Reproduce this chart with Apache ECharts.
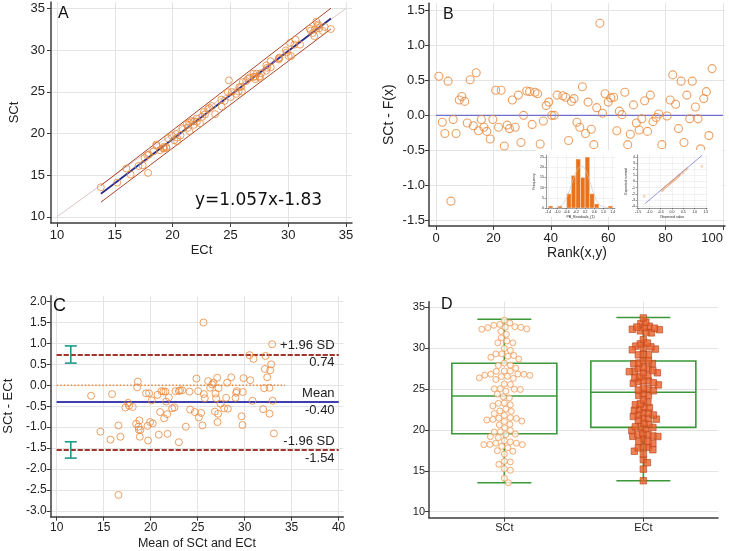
<!DOCTYPE html>
<html><head><meta charset="utf-8">
<script src="https://cdn.jsdelivr.net/npm/echarts@6.0.0/dist/echarts.min.js"></script>
<style>html,body{margin:0;padding:0;background:#fff}#c{width:729px;height:551px}</style>
</head><body><div id="c"></div>
<script>
// ---------- DATA ----------
// Panel A / D : paired Ct values
const ectVals = [13.79,15.21,16.37,16.00,17.05,17.88,17.40,17.58,17.81,17.95,18.35,18.91,18.59,18.59,19.20,19.26,19.22,19.46,19.45,19.61,20.15,20.39,19.93,20.38,20.30,20.68,20.84,21.45,21.32,21.22,21.44,21.83,21.65,21.84,22.10,22.37,22.08,22.56,22.80,22.71,23.07,23.19,23.41,23.68,24.24,24.21,24.49,25.02,24.79,25.12,25.51,25.70,25.99,24.87,25.77,25.92,26.07,26.36,26.53,26.65,27.15,27.00,27.13,26.99,27.55,27.52,27.26,27.65,28.10,28.18,28.11,28.49,28.48,29.18,29.19,29.24,30.04,30.25,29.89,29.80,30.16,30.53,31.03,30.63,32.26,32.12,31.96,31.87,32.31,32.99,32.68,32.54,32.58,32.44,33.16,33.69];
const sctVals = [13.54,14.10,15.07,15.79,16.09,15.26,16.17,17.05,17.39,17.46,17.83,17.99,18.54,18.68,18.21,18.20,18.38,18.23,18.38,19.42,19.18,19.07,19.74,19.50,19.94,19.77,20.61,20.27,20.68,21.08,21.29,21.04,21.50,21.45,21.41,21.21,21.79,22.01,22.27,22.57,22.93,23.07,23.29,22.32,23.25,24.06,23.91,24.38,24.95,24.98,24.74,25.04,25.03,26.37,25.56,25.61,26.17,26.30,26.55,26.71,26.52,26.80,26.82,27.17,26.67,26.84,27.19,27.21,27.55,27.88,28.17,27.93,28.67,28.88,29.01,29.10,29.30,29.30,29.73,29.97,30.88,30.65,30.66,31.26,31.69,32.05,32.35,32.57,32.50,32.31,32.62,32.90,33.08,33.42,32.79,32.54];
const fitSlope = 1.057, fitIntercept = -1.83;
const fitRange = [13.8, 33.7];
const predBand = [1.0, 1.25];
const identityRange = [10, 35];

// Panel B : residuals by rank
const rankVals = [1.0,2.2,3.1,4.2,5.2,6.0,7.0,8.1,9.0,10.0,10.9,11.9,13.0,14.0,14.8,15.8,16.7,17.7,18.9,19.8,20.8,21.8,22.7,23.8,24.8,25.6,26.6,27.6,28.7,29.6,30.5,31.6,32.6,33.5,34.5,35.4,36.3,37.4,38.4,39.3,40.3,41.2,42.2,44.2,45.2,46.2,47.2,48.1,49.1,50.1,51.0,52.1,53.0,54.1,55.0,56.0,57.1,58.0,58.9,60.0,60.9,61.9,63.0,63.9,64.8,65.8,66.8,67.7,68.8,69.8,70.8,71.7,72.7,73.7,74.7,75.6,76.7,77.6,78.7,80.5,81.6,82.5,83.5,84.5,85.4,86.4,87.4,88.4,89.3,90.4,91.3,92.2,93.3,94.2,95.1,96.2,97.1];
const residVals = [0.56,-0.10,-0.26,0.49,-1.23,-0.06,-0.26,0.22,0.27,0.20,-0.11,0.51,-0.15,0.61,-0.22,-0.06,-0.17,-0.23,-0.34,-0.06,0.36,-0.17,0.36,-0.44,-0.14,-0.19,0.22,-0.17,0.29,-0.39,0.00,0.35,0.34,-0.13,0.33,0.31,-0.41,-0.08,0.14,0.19,0.00,0.00,0.29,0.28,0.26,-0.36,0.20,0.24,-0.10,-0.17,0.41,-0.26,0.19,-0.20,-0.42,0.11,1.32,0.03,0.31,0.19,0.25,0.26,-0.22,0.06,0.01,0.33,-0.42,-0.27,0.15,-0.11,-0.21,-0.05,0.21,-0.23,0.29,-0.09,-0.03,0.02,-0.42,-0.01,0.22,0.58,0.16,-0.19,0.49,-0.39,0.29,-0.05,0.49,0.12,-0.05,-0.48,0.24,0.34,-0.29,0.67,-0.83];
// inset histogram
const histCenters = [-1.3,-0.9,-0.5,-0.3,-0.1,0.1,0.3,0.5,0.7,1.3];
const histCounts = [1,1,7,16,24,15,25,7,2,1];
const histCurveX = [-1.1,-0.9,-0.7,-0.5,-0.3,-0.1,0.05,0.2,0.4,0.6,0.8,1.0,1.2];
const histCurveY = [0.2,0.8,3,8,14.5,19.5,20.5,19,13,6.5,2,0.6,0.1];
const histTicksX = [-1.4,-1.0,-0.6,-0.2,0.2,0.6,1.0,1.4];
const histTicksY = [0,5,10,15,20,25];
// inset normal plot
const qqObserved = [-1.23,-0.45,-0.40,-0.35,-0.30,-0.25,-0.20,-0.15,-0.10,-0.05,0.00,0.05,0.10,0.15,0.20,0.25,0.30,0.35,0.45,0.50,0.60,0.67,1.32];
const qqExpected = [-2.4,-1.5,-1.35,-1.15,-0.95,-0.8,-0.65,-0.5,-0.35,-0.2,-0.05,0.1,0.25,0.4,0.55,0.75,0.9,1.1,1.35,1.55,1.85,2.1,2.45];
const qqLineX = [-1.2, 1.35];
const qqLineY = [-3.6, 4.3];
const qqTicksX = [-1.5,-1.0,-0.5,0.0,0.5,1.0,1.5];
const qqTicksY = [-4,-3,-2,-1,0,1,2,3,4];

// Panel C : Bland-Altman
const bamMean = [13.66,14.65,15.72,15.89,16.57,16.57,16.78,17.31,17.60,17.70,18.09,18.45,18.56,18.63,18.70,18.73,18.80,18.84,18.91,19.51,19.66,19.73,19.83,19.94,20.12,20.22,20.72,20.86,21.00,21.15,21.36,21.43,21.57,21.64,21.75,21.79,21.93,22.28,22.53,22.64,23.00,23.13,23.35,23.00,23.74,24.13,24.20,24.70,24.87,25.05,25.12,25.37,25.51,25.62,25.66,25.76,26.12,26.33,26.54,26.68,26.83,26.90,26.97,27.08,27.11,27.18,27.22,27.43,27.82,28.03,28.14,28.21,28.57,29.03,29.10,29.17,29.67,29.77,29.81,29.88,30.52,30.59,30.84,30.94,31.97,32.08,32.15,32.22,32.40,32.65,32.65,32.72,32.83,32.93,32.97,33.11];
const bamDiff = [-0.25,-1.11,-1.30,-0.21,-0.96,-2.62,-1.23,-0.53,-0.42,-0.49,-0.52,-0.92,-0.05,0.09,-0.99,-1.06,-0.84,-1.23,-1.07,-0.19,-0.97,-1.32,-0.19,-0.88,-0.36,-0.91,-0.23,-1.18,-0.64,-0.14,-0.15,-0.79,-0.15,-0.39,-0.69,-1.16,-0.29,-0.55,-0.53,-0.14,-0.14,-0.12,-0.12,-1.36,-0.99,-0.15,-0.58,-0.64,0.16,-0.14,-0.77,-0.66,-0.96,1.50,-0.21,-0.31,0.10,-0.06,0.02,0.06,-0.63,-0.20,-0.31,0.18,-0.88,-0.68,-0.07,-0.44,-0.55,-0.30,0.06,-0.56,0.19,-0.30,-0.18,-0.14,-0.74,-0.95,-0.16,0.17,0.72,0.12,-0.37,0.63,-0.57,-0.07,0.39,0.70,0.19,-0.68,-0.06,0.36,0.50,0.98,-0.37,-1.15];
const meanDiff = -0.40, upperLoA = 0.74, lowerLoA = -1.54;
const loaRange = [10, 40];
const zeroLineRange = [10, 34.3];
const ciX = 11.5;
const ciUpper = [0.53, 0.94];
const ciLower = [-1.74, -1.35];

// Panel D : box plots [min, Q1, median, Q3, max]
const boxNames = ['SCt', 'ECt'];
const boxStats = [[13.55,19.54,24.15,28.15,33.53],[13.79,20.32,24.60,28.43,33.74]];

const ticksA = [10,15,20,25,30,35];
const ticksBx = [0,20,40,60,80,100];
const ticksBy = [-1.5,-1.0,-0.5,0.0,0.5,1.0,1.5];
const ticksCx = [10,15,20,25,30,35,40];
const ticksCy = [-3.0,-2.5,-2.0,-1.5,-1.0,-0.5,0.0,0.5,1.0,1.5,2.0];
const ticksD = [10,15,20,25,30,35];

// ---------- CHART ----------
const FONT = 'Liberation Sans, Arial, sans-serif';
const ORANGE = '#e8883c';
const chart = echarts.init(document.getElementById('c'));

function axis(gridIndex, min, max, ticks, o) {
  o = o || {};
  const fs = o.fontSize || 13;
  return {
    type: 'value', gridIndex, min, max, z: o.z || 0,
    axisLine: {show: true, onZero: false, lineStyle: {color: o.lineColor || '#3c3c3c', width: o.lineWidth || 1.5}},
    axisTick: {show: true, customValues: ticks, length: o.tickLen || 4, lineStyle: {color: o.lineColor || '#3c3c3c', width: o.tickWidth || 1}},
    axisLabel: {show: true, customValues: ticks, formatter: o.fmt || (v => String(v)), color: '#222',
      fontSize: fs, fontFamily: FONT, margin: o.margin || 6, hideOverlap: false,
      alignMaxLabel: o.alignMax || null},
    splitLine: {show: o.split !== false, lineStyle: {color: '#e4e4e4', width: o.splitWidth || 1}},
    name: o.name || '', nameLocation: 'middle', nameGap: o.nameGap || 20,
    nameTextStyle: {color: '#222', fontSize: o.nameSize || 13, fontFamily: FONT}
  };
}
const f1 = v => v.toFixed(1);
const fit = x => fitSlope * x + fitIntercept;

function lineSeries(xi, yi, pts, color, width, type, z) {
  return {type: 'line', xAxisIndex: xi, yAxisIndex: yi, data: pts, symbol: 'none', silent: true,
    lineStyle: {color, width, type: type || 'solid'}, z: z || 2, animation: false};
}

const scatterA = ectVals.map((v, i) => [v, sctVals[i]]);
const scatterB = rankVals.map((v, i) => [v, residVals[i]]);
const scatterC = bamMean.map((v, i) => [v, bamDiff[i]]);

function loaPair(v, text, pos, color, type) {
  return [{coord: [loaRange[0], v], lineStyle: {color, width: 1.5, type},
           label: {show: true, formatter: text, position: pos, distance: [4, 2], color: '#222', fontSize: 13, fontFamily: FONT}},
          {coord: [loaRange[1], v]}];
}

const tiny = 3.5;
function tinyAxis(gi, min, max, ticks, fmt, name, gap) {
  const a = axis(gi, min, max, ticks, {fontSize: tiny, margin: 2, tickLen: 1.5, lineWidth: 0.6, tickWidth: 0.5,
    fmt, name, nameGap: gap, nameSize: tiny, splitWidth: 0.5, z: 60});
  a.axisLine.lineStyle.color = '#555';
  return a;
}

const option = {
  animation: false,
  backgroundColor: '#fff',
  textStyle: {fontFamily: FONT},
  grid: [
    {left: 51, top: 2, width: 301, height: 221, outerBoundsMode: 'none'},
    {left: 429, top: 3.3, width: 296, height: 222.7, outerBoundsMode: 'none'},
    {left: 50.7, top: 295.7, width: 292.6, height: 221, outerBoundsMode: 'none'},
    {left: 429, top: 301.7, width: 289, height: 216, outerBoundsMode: 'none'},
    {left: 546, top: 155, width: 69, height: 53, outerBoundsMode: 'none', z: 60},
    {left: 637, top: 155, width: 70, height: 53, outerBoundsMode: 'none', z: 60}
  ],
  xAxis: [
    axis(0, 9.48, 35.52, ticksA, {name: 'ECt', nameGap: 21}),
    axis(1, -2.44, 100.7, ticksBx, {name: 'Rank(x,y)', nameGap: 8, nameSize: 14, alignMax: 'right'}),
    axis(2, 9.36, 40.5, ticksCx, {name: 'Mean of SCt and ECt', nameGap: 20, nameSize: 12.5, fontSize: 12, margin: 5}),
    axis(3, 0.458, 2.537, [1, 2], {fmt: v => boxNames[Math.round(v) - 1], fontSize: 11, margin: 5}),
    tinyAxis(4, -1.5, 1.5, histTicksX, f1, 'PB_Residuals_(1)', 4),
    tinyAxis(5, -1.55, 1.55, qqTicksX, f1, 'Observed value', 4)
  ],
  yAxis: [
    axis(0, 9.25, 35.78, ticksA, {name: 'SCt', nameGap: 30}),
    axis(1, -1.586, 1.606, ticksBy, {fmt: f1, name: 'SCt - F(x)', nameGap: 33, nameSize: 14, margin: 4}),
    axis(2, -3.14, 2.14, ticksCy, {fmt: f1, name: 'SCt - ECt', nameGap: 36, fontSize: 12, margin: 4}),
    axis(3, 9.27, 35.68, ticksD, {fontSize: 11, margin: 4}),
    tinyAxis(4, 0, 26, histTicksY, v => String(v), 'Frequency', 6),
    tinyAxis(5, -4.3, 4.3, qqTicksY, v => String(v), 'Expected normal', 5)
  ],
  graphic: [
    {type: 'rect', shape: {x: 536, y: 150, width: 186, height: 67}, style: {fill: '#fff'}, z: 50, silent: true},
    {type: 'text', left: 58, top: 6, style: {text: 'A', font: '16px Liberation Sans', fill: '#111'}, z: 100},
    {type: 'text', left: 443, top: 7, style: {text: 'B', font: '16px Liberation Sans', fill: '#111'}, z: 100},
    {type: 'text', left: 53, top: 297, style: {text: 'C', font: '18px Liberation Sans', fill: '#111'}, z: 100},
    {type: 'text', left: 441, top: 297, style: {text: 'D', font: '16px Liberation Sans', fill: '#111'}, z: 100},
    {type: 'text', left: 195, top: 192, style: {text: 'y=1.057x-1.83', font: '17px DejaVu Sans', fill: '#111'}, z: 100}
  ],
  series: [
    // ---- A ----
    lineSeries(0, 0, [[identityRange[0], identityRange[0]], [identityRange[1], identityRange[1]]], '#dcc6c6', 1),
    lineSeries(0, 0, [[fitRange[0], fit(fitRange[0]) + predBand[0]], [fitRange[1], fit(fitRange[1]) + predBand[1]]], '#a8442e', 1),
    lineSeries(0, 0, [[fitRange[0], fit(fitRange[0]) - predBand[0]], [fitRange[1], fit(fitRange[1]) - predBand[1]]], '#a8442e', 1),
    lineSeries(0, 0, [[fitRange[0], fit(fitRange[0])], [fitRange[1], fit(fitRange[1])]], '#2b2b8c', 1.8, 'solid', 3),
    {type: 'scatter', xAxisIndex: 0, yAxisIndex: 0, data: scatterA, symbol: 'circle', symbolSize: 7, z: 4,
      itemStyle: {color: 'rgba(255,255,255,0)', borderColor: ORANGE, borderWidth: 1}},
    // ---- B ----
    lineSeries(1, 1, [[0, 0], [100, 0]], '#6f6fcf', 1.3),
    {type: 'scatter', xAxisIndex: 1, yAxisIndex: 1, data: scatterB, symbol: 'circle', symbolSize: 8, z: 4,
      itemStyle: {color: 'rgba(255,255,255,0)', borderColor: ORANGE, borderWidth: 1.1}},
    // inset histogram
    {type: 'custom', xAxisIndex: 4, yAxisIndex: 4, z: 61, data: histCenters.map((c, i) => [c, histCounts[i]]),
      renderItem: (p, api) => {
        const a = api.coord([api.value(0) - 0.1, api.value(1)]);
        const b = api.coord([api.value(0) + 0.1, 0]);
        return {type: 'rect', shape: {x: a[0], y: a[1], width: b[0] - a[0], height: b[1] - a[1]},
          style: {fill: '#e8731c', stroke: '#fff', lineWidth: 0.4}};
      }},
    Object.assign(lineSeries(4, 4, histCurveX.map((x, i) => [x, histCurveY[i]]), '#c8c8c8', 0.7, 'solid', 62), {smooth: true}),
    // inset normal plot
    lineSeries(5, 5, qqLineX.map((x, i) => [x, qqLineY[i]]), '#6b6bd0', 0.7, 'solid', 61),
    {type: 'scatter', xAxisIndex: 5, yAxisIndex: 5, data: qqObserved.map((x, i) => [x, qqExpected[i]]), symbolSize: 2, z: 62,
      itemStyle: {color: 'rgba(255,255,255,0)', borderColor: ORANGE, borderWidth: 0.5}},
    // ---- C ----
    lineSeries(2, 2, [[zeroLineRange[0], 0], [zeroLineRange[1], 0]], ORANGE, 1.4, [1.5, 2]),
    {type: 'scatter', xAxisIndex: 2, yAxisIndex: 2, data: scatterC, symbol: 'circle', symbolSize: 7, z: 4,
      itemStyle: {color: 'rgba(255,255,255,0)', borderColor: ORANGE, borderWidth: 1},
      markLine: {silent: true, symbol: 'none', animation: false, z: 3,
        data: [
          loaPair(upperLoA, '+1.96 SD', 'insideEndTop', '#9c2a22', [5, 2]),
          loaPair(upperLoA, upperLoA.toFixed(2), 'insideEndBottom', '#9c2a22', [5, 2]),
          loaPair(meanDiff, 'Mean', 'insideEndTop', '#3232a8', 'solid'),
          loaPair(meanDiff, meanDiff.toFixed(2), 'insideEndBottom', '#3232a8', 'solid'),
          loaPair(lowerLoA, '-1.96 SD', 'insideEndTop', '#9c2a22', [5, 2]),
          loaPair(lowerLoA, lowerLoA.toFixed(2), 'insideEndBottom', '#9c2a22', [5, 2])
        ]}},
    {type: 'custom', xAxisIndex: 2, yAxisIndex: 2, z: 5, data: [[ciX, ciUpper[0], ciUpper[1]], [ciX, ciLower[0], ciLower[1]]],
      renderItem: (p, api) => {
        const lo = api.coord([api.value(0), api.value(1)]);
        const hi = api.coord([api.value(0), api.value(2)]);
        const st = {stroke: '#1e9a8c', lineWidth: 1.6};
        return {type: 'group', children: [
          {type: 'line', shape: {x1: lo[0], y1: lo[1], x2: hi[0], y2: hi[1]}, style: st},
          {type: 'line', shape: {x1: lo[0] - 6, y1: lo[1], x2: lo[0] + 6, y2: lo[1]}, style: st},
          {type: 'line', shape: {x1: hi[0] - 6, y1: hi[1], x2: hi[0] + 6, y2: hi[1]}, style: st}
        ]};
      }},
    // ---- D ----
    {type: 'custom', xAxisIndex: 3, yAxisIndex: 3, z: 3, data: boxStats.map((s, i) => [i + 1].concat(s)),
      renderItem: (p, api) => {
        const x = api.value(0);
        const pmin = api.coord([x, api.value(1)]), pq1 = api.coord([x, api.value(2)]),
              pmed = api.coord([x, api.value(3)]), pq3 = api.coord([x, api.value(4)]), pmax = api.coord([x, api.value(5)]);
        const hw = 52.5, cw = 27;
        const st = {stroke: '#3a983a', lineWidth: 1.6, fill: null};
        return {type: 'group', children: [
          {type: 'line', shape: {x1: pmin[0], y1: pmin[1], x2: pq1[0], y2: pq1[1]}, style: st},
          {type: 'line', shape: {x1: pq3[0], y1: pq3[1], x2: pmax[0], y2: pmax[1]}, style: st},
          {type: 'line', shape: {x1: pmin[0] - cw, y1: pmin[1], x2: pmin[0] + cw, y2: pmin[1]}, style: st},
          {type: 'line', shape: {x1: pmax[0] - cw, y1: pmax[1], x2: pmax[0] + cw, y2: pmax[1]}, style: st},
          {type: 'rect', shape: {x: pq3[0] - hw, y: pq3[1], width: 2 * hw, height: pq1[1] - pq3[1]}, style: st},
          {type: 'line', shape: {x1: pmed[0] - hw, y1: pmed[1], x2: pmed[0] + hw, y2: pmed[1]}, style: st}
        ]};
      }},
    {id: 'dS', type: 'scatter', xAxisIndex: 3, yAxisIndex: 3, data: sctVals.map(v => [1, v]), symbol: 'circle', symbolSize: 6, z: 4,
      itemStyle: {color: '#fff6ee', borderColor: '#ee9a58', borderWidth: 1}},
    {id: 'dE', type: 'scatter', xAxisIndex: 3, yAxisIndex: 3, data: ectVals.map(v => [2, v]), symbol: 'rect', symbolSize: 6.5, z: 4,
      itemStyle: {color: '#e8602a', borderColor: '#b8461c', borderWidth: 0.8}}
  ]
};
chart.setOption(option);

// beeswarm layout for panel D, computed through the axis scales
function swarm(vals, center, d) {
  const gi = {gridIndex: 3};
  const cx = chart.convertToPixel(gi, [center, vals[0]])[0];
  const pys = vals.map(v => chart.convertToPixel(gi, [center, v])[1]);
  const order = vals.map((v, i) => i).sort((a, b) => pys[a] - pys[b]);
  const placed = [], out = new Array(vals.length);
  for (const i of order) {
    const py = pys[i];
    let best = 0;
    for (let k = 0; k < 400; k++) {
      const off = (k % 2 ? 1 : -1) * Math.ceil(k / 2) * 0.5;
      let ok = true;
      for (const q of placed) {
        const dx = q.x - off, dy = q.y - py;
        if (dx * dx + dy * dy < d * d) { ok = false; break; }
      }
      if (ok) { best = off; break; }
    }
    placed.push({x: best, y: py});
    out[i] = [chart.convertFromPixel(gi, [cx + best, py])[0], vals[i]];
  }
  return out;
}
chart.setOption({series: [{id: 'dS', data: swarm(sctVals, 1, 6)}, {id: 'dE', data: swarm(ectVals, 2, 5)}]});
</script></body></html>
